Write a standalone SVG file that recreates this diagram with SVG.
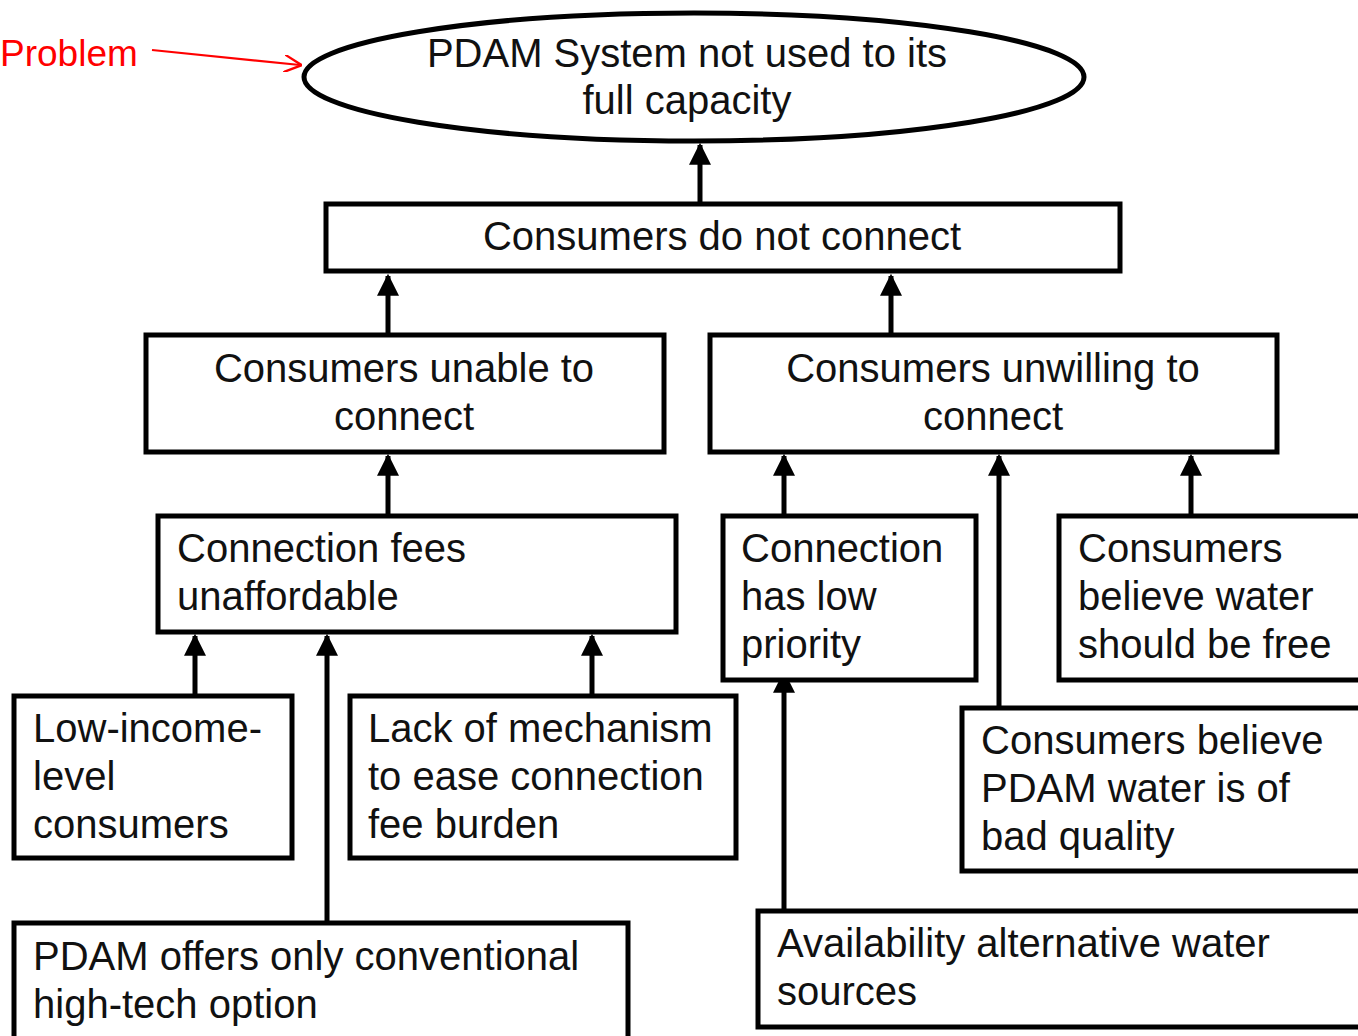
<svg xmlns="http://www.w3.org/2000/svg" width="1358" height="1036" viewBox="0 0 1358 1036">
<style>
.box{fill:#fff;stroke:#000;stroke-width:5}
.t{font-family:"Liberation Sans",Arial,sans-serif;font-size:40px;fill:#111}
.c{text-anchor:middle}
.ln{stroke:#000;stroke-width:5;fill:none}
</style>
<defs>
<marker id="ah" viewBox="0 0 10 10" refX="9" refY="5" markerWidth="4.4" markerHeight="4.4" orient="auto" markerUnits="strokeWidth">
<path d="M0,0 L10,5 L0,10 z" fill="#000"/>
</marker>
<marker id="rh" viewBox="0 0 10 10" refX="9" refY="5" markerWidth="8" markerHeight="8" orient="auto" markerUnits="strokeWidth">
<path d="M0,0 L10,5 L0,10" fill="none" stroke="#f00" stroke-width="1.3"/>
</marker>
</defs>
<rect width="1358" height="1036" fill="#fff"/>
<g id="connectors">
<line class="ln" x1="700" y1="204" x2="700" y2="145" marker-end="url(#ah)"/>
<line class="ln" x1="388" y1="335" x2="388" y2="276" marker-end="url(#ah)"/>
<line class="ln" x1="891" y1="335" x2="891" y2="276" marker-end="url(#ah)"/>
<line class="ln" x1="388" y1="516" x2="388" y2="456" marker-end="url(#ah)"/>
<line class="ln" x1="784" y1="516" x2="784" y2="456" marker-end="url(#ah)"/>
<line class="ln" x1="1191" y1="516" x2="1191" y2="456" marker-end="url(#ah)"/>
<line class="ln" x1="999" y1="708" x2="999" y2="456" marker-end="url(#ah)"/>
<line class="ln" x1="784" y1="911" x2="784" y2="673" marker-end="url(#ah)"/>
<line class="ln" x1="195" y1="696" x2="195" y2="636" marker-end="url(#ah)"/>
<line class="ln" x1="327" y1="923" x2="327" y2="636" marker-end="url(#ah)"/>
<line class="ln" x1="592" y1="696" x2="592" y2="636" marker-end="url(#ah)"/>
<line x1="152" y1="50" x2="300" y2="65" stroke="#f00" stroke-width="2.2" marker-end="url(#rh)"/>
</g>
<g id="label-problem"><text class="t" x="0" y="66" style="fill:#f00;font-size:37px">Problem</text></g>
<g id="n-problem">
<ellipse cx="694" cy="77" rx="390" ry="64" fill="#fff" stroke="#000" stroke-width="5"/>
<text class="t c" x="687" y="67">PDAM System not used to its</text>
<text class="t c" x="687" y="114">full capacity</text>
</g>
<g id="n-donot">
<rect class="box" x="326" y="204" width="794" height="67"/>
<text class="t c" x="722" y="250">Consumers do not connect</text>
</g>
<g id="n-unable">
<rect class="box" x="146" y="335" width="518" height="117"/>
<text class="t c" x="404" y="382">Consumers unable to</text>
<text class="t c" x="404" y="430">connect</text>
</g>
<g id="n-unwilling">
<rect class="box" x="710" y="335" width="567" height="117"/>
<text class="t c" x="993" y="382">Consumers unwilling to</text>
<text class="t c" x="993" y="430">connect</text>
</g>
<g id="n-fees">
<rect class="box" x="158" y="516" width="518" height="116"/>
<text class="t" x="177" y="562">Connection fees</text>
<text class="t" x="177" y="610">unaffordable</text>
</g>
<g id="n-priority">
<rect class="box" x="723" y="516" width="253" height="164"/>
<text class="t" x="741" y="562">Connection</text>
<text class="t" x="741" y="610">has low</text>
<text class="t" x="741" y="658">priority</text>
</g>
<g id="n-free">
<rect class="box" x="1059" y="516" width="310" height="164"/>
<text class="t" x="1078" y="562">Consumers</text>
<text class="t" x="1078" y="610">believe water</text>
<text class="t" x="1078" y="658">should be free</text>
</g>
<g id="n-quality">
<rect class="box" x="962" y="708" width="410" height="163"/>
<text class="t" x="981" y="754">Consumers believe</text>
<text class="t" x="981" y="802">PDAM water is of</text>
<text class="t" x="981" y="850">bad quality</text>
</g>
<g id="n-alt">
<rect class="box" x="758" y="911" width="620" height="116"/>
<text class="t" x="777" y="957">Availability alternative water</text>
<text class="t" x="777" y="1005">sources</text>
</g>
<g id="n-lowincome">
<rect class="box" x="14" y="696" width="278" height="162"/>
<text class="t" x="33" y="742">Low-income-</text>
<text class="t" x="33" y="790">level</text>
<text class="t" x="33" y="838">consumers</text>
</g>
<g id="n-mechanism">
<rect class="box" x="350" y="696" width="386" height="162"/>
<text class="t" x="368" y="742">Lack of mechanism</text>
<text class="t" x="368" y="790">to ease connection</text>
<text class="t" x="368" y="838">fee burden</text>
</g>
<g id="n-pdamoffers">
<rect class="box" x="14" y="923" width="614" height="130"/>
<text class="t" x="33" y="970">PDAM offers only conventional</text>
<text class="t" x="33" y="1018">high-tech option</text>
</g>
</svg>
